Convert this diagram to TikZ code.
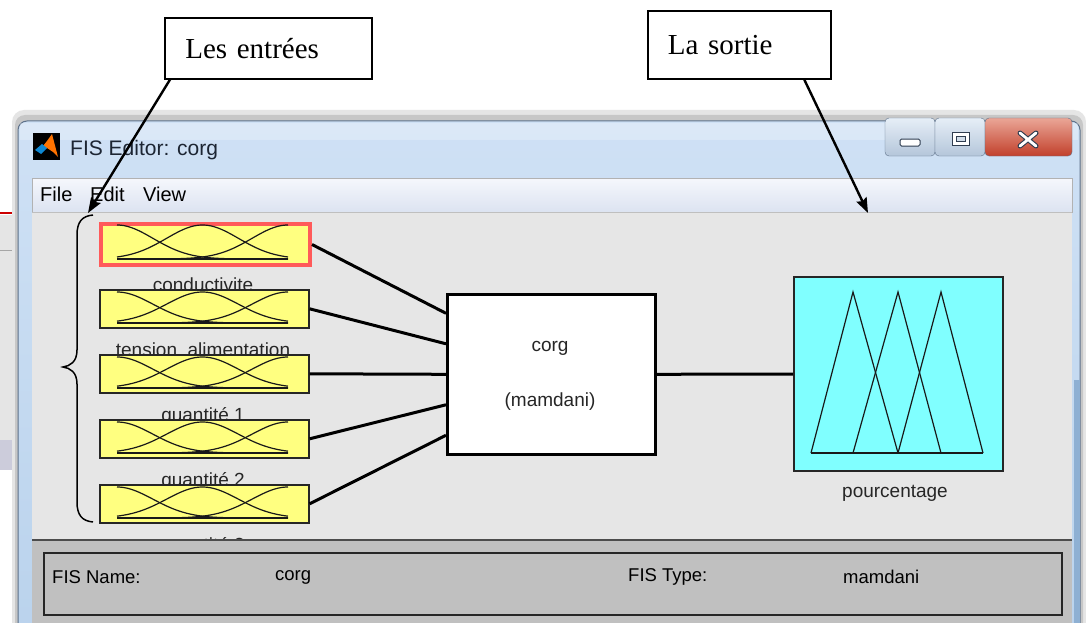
\documentclass[tikz,border=0pt]{standalone}
\usepackage{fontspec}
\setmainfont{Liberation Sans}
\newfontfamily\annfamily{Liberation Serif}
\usetikzlibrary{arrows.meta,calc}

\definecolor{mfyellow}{HTML}{FFFF80}
\definecolor{outcyan}{HTML}{80FFFF}
\definecolor{selred}{HTML}{FF5A5A}
\definecolor{contentgray}{HTML}{E6E6E6}
\definecolor{panelgray}{HTML}{C0C0C0}
\definecolor{frametop}{HTML}{CFE1F5}
\definecolor{framebot}{HTML}{B9D2EC}
\definecolor{frameside}{HTML}{8EB0D3}
\definecolor{frameedge}{HTML}{5E7189}
\definecolor{menutop}{HTML}{F5F7FC}
\definecolor{menubot}{HTML}{DCE3F1}
\definecolor{btntop}{HTML}{E6EEF7}
\definecolor{btnbot}{HTML}{B4C6DA}
\definecolor{closetop}{HTML}{EAA697}
\definecolor{closebot}{HTML}{C2402B}
\definecolor{icondark}{HTML}{2F3D50}
\definecolor{titletext}{HTML}{1C2533}

\newcommand\fisui{\fontsize{19}{22}\selectfont}
\newcommand\fistitle{\fontsize{21}{24}\selectfont}
\newcommand\fismenu{\fontsize{20}{23}\selectfont}
\newcommand\fispanel{\fontsize{18.5}{22}\selectfont}
\newcommand\fisann{\annfamily\fontsize{29}{32}\selectfont}

\begin{document}
\begin{tikzpicture}[x=1pt,y=-1pt,
  mfbox/.style={draw=black!85, line width=1.6pt, fill=mfyellow,
    minimum width=209pt, minimum height=#1, inner sep=0pt, anchor=north west},
  mfbox/.default=38pt,
  fisbox/.style={draw=black, line width=2.6pt, fill=white,
    minimum width=208pt, minimum height=160pt, inner sep=0pt, anchor=north west},
  outbox/.style={draw=black!85, line width=2pt, fill=outcyan,
    minimum width=209pt, minimum height=194pt, inner sep=0pt, anchor=north west},
  wire/.style={line width=3pt, black},
  mfcurve/.style={line width=1.2pt, black!90},
  uilabel/.style={font=\fisui, text=black!85, inner sep=0pt},
  annbox/.style={draw=black, line width=1.6pt, fill=white, anchor=north west,
    font=\fisann, align=left, inner ysep=0pt},
  annarrow/.style={line width=2.4pt, -{Stealth[length=15pt,width=11pt,inset=2pt]}},
  bracket/.style={line width=1.5pt, black}
]
\useasboundingbox (0,0) rectangle (1086,623);
\clip (0,0) rectangle (1086,623);
\fill[white] (0,0) rectangle (1086,623);

% desktop clutter left of the window
\fill[black!10] (0,215) rectangle (18,470);
\draw[red!80!black, line width=2pt] (0,213) -- (16,213);
\fill[black!55] (13,310) rectangle (18,430);
\draw[black!35] (0,250) -- (18,250);
\fill[blue!30!black!20] (0,440) rectangle (18,470);

% window drop shadow
\fill[black!10, rounded corners=12pt] (12,110) rectangle (1086,660);
\fill[black!22, rounded corners=10pt] (15,115) rectangle (1083,660);

% glass frame and title bar
\shade[top color=frametop, bottom color=framebot, draw=frameedge, line width=1pt,
  rounded corners=9pt] (18,121) rectangle (1080,660);
\fill[white, opacity=0.25] (20,123) rectangle (1078,140);
\fill[frameside] (1074,380) rectangle (1080,623);

% application icon
\fill[black] (33,133) rectangle (60,160);
\fill[orange!90!red] (39,151) -- (47,141) -- (52,134) -- (58,157) -- (53,152) -- (47,148) -- cycle;
\fill[cyan!70!blue] (35,150) -- (42,144) -- (47,148) -- (41,154) -- cycle;
\node[anchor=west, font=\fistitle, text=titletext, inner sep=0pt] (title) at (70,150) {FIS Editor: corg};

% caption buttons
\shade[top color=btntop, bottom color=btnbot, draw=frameedge, rounded corners=4pt]
  (885,118) rectangle (935,156);
\shade[top color=btntop, bottom color=btnbot, draw=frameedge, rounded corners=4pt]
  (935,118) rectangle (985,156);
\shade[top color=closetop, bottom color=closebot, draw=frameedge, rounded corners=4pt]
  (985,118) rectangle (1072,156);
\draw[icondark, fill=white, rounded corners=1.5pt, line width=1pt] (900,139) rectangle (920,146);
\draw[icondark, fill=white, line width=1pt] (952,132) rectangle (969,145);
\draw[icondark, fill=btnbot!60, line width=1pt] (956,136) rectangle (965,141);
\draw[icondark, line width=5pt, line cap=round] (1020,133) -- (1036,146) (1036,133) -- (1020,146);
\draw[white, line width=2.8pt, line cap=round] (1020,133) -- (1036,146) (1036,133) -- (1020,146);

% menu bar
\shade[top color=menutop, bottom color=menubot] (32,178) rectangle (1072,212);
\draw[black!30] (32,178) rectangle (1072,212);
\node[anchor=west, font=\fismenu, inner sep=0pt] at (40,194) {File};
\node[anchor=west, font=\fismenu, inner sep=0pt] at (90,194) {Edit};
\node[anchor=west, font=\fismenu, inner sep=0pt] at (143,194) {View};

% diagram area
\fill[contentgray] (32,212) rectangle (1072,545);
\draw[black!25] (32,212) -- (1072,212);

% input variable names (partly hidden by the next block)
\foreach \b/\lab in {291/conductivite, 356/tension\_alimentation,
    421/quantité 1, 486/quantité 2, 551/quantité 3}
  \node[uilabel, anchor=base] at (203,\b) {\lab};

% input blocks
\node[mfbox=41pt, draw=selred, line width=4pt] (in1) at (99,222) {};
\node[mfbox] (in2) at (99,289) {};
\node[mfbox] (in3) at (99,354) {};
\node[mfbox] (in4) at (99,419) {};
\node[mfbox] (in5) at (99,484) {};

% membership function icons inside the input blocks
\foreach \t/\h in {222/41, 289/38, 354/38, 419/38, 484/38} {
  \pgfmathsetmacro\mftop{\t+3}
  \pgfmathsetmacro\mfbot{\t+\h-4}
  \draw[mfcurve] (117,\mfbot) -- (288,\mfbot);
  \foreach \c in {117, 202.5, 288}
    \draw[mfcurve] plot[domain=117:288, samples=70, smooth]
      (\x, {\mfbot-(\mfbot-\mftop)*exp(-0.5*((\x-\c)/36)^2)});
}

% rule block and output block
\node[fisbox] (fis) at (446,293) {};
\node[font=\fisui, text=black!85] at (550,348) {corg};
\node[font=\fisui, text=black!85] at (550,402) {(mamdani)};

\node[outbox] (out) at (793,276) {};
\draw[mfcurve] (811,453) -- (983,453);
\draw[mfcurve] (811,453) -- (853,292) -- (898,453);
\draw[mfcurve] (853,453) -- (898,292) -- (941,453);
\draw[mfcurve] (898,453) -- (941,292) -- (983,453);
\node[uilabel] at (895,493) {pourcentage};

% connections
\draw[wire] (in1.east) -- ($(fis.north west)!0.125!(fis.south west)$);
\draw[wire] (in2.east) -- ($(fis.north west)!0.3125!(fis.south west)$);
\draw[wire] (in3.east) -- ($(fis.north west)!0.5!(fis.south west)$);
\draw[wire] (in4.east) -- ($(fis.north west)!0.6875!(fis.south west)$);
\draw[wire] (in5.east) -- ($(fis.north west)!0.875!(fis.south west)$);
\draw[wire] (fis.east) -- (out.west);

% status panel
\fill[panelgray] (32,540) rectangle (1072,640);
\draw[black!70, line width=1.2pt] (32,540) -- (1072,540);
\draw[black!85, line width=2pt] (44,553) rectangle (1062,615);
\node[anchor=west, font=\fispanel, inner sep=0pt] at (52,577) {FIS Name:};
\node[anchor=west, font=\fispanel, inner sep=0pt] at (275,577) {corg};
\node[anchor=west, font=\fispanel, inner sep=0pt] at (628,577) {FIS Type:};
\node[anchor=west, font=\fispanel, inner sep=0pt] at (843,577) {mamdani};

% brace grouping the inputs
\draw[bracket] (93,215) .. controls (82,216) and (77,222) .. (77,235) -- (77,350)
  .. controls (77,362) and (70,366) .. (63,367)
  .. controls (70,368) and (77,372) .. (77,384) -- (77,502)
  .. controls (77,515) and (82,521) .. (93,522);

% annotations
\node[annbox, minimum width=207pt, minimum height=61pt, text width=166pt, inner xsep=20.5pt]
  (inputs) at (164,17) {Les entrées};
\node[annbox, minimum width=183pt, minimum height=68pt, text width=143pt, inner xsep=20pt]
  (output) at (647,10) {La sortie};
\coordinate (inputstip) at (88,213);
\coordinate (outputtip) at (868,213);
\draw[annarrow] ([xshift=6pt]inputs.south west) -- (inputstip);
\draw[annarrow] ($(output.south west)!0.852!(output.south east)$) -- (outputtip);
\end{tikzpicture}
\end{document}
